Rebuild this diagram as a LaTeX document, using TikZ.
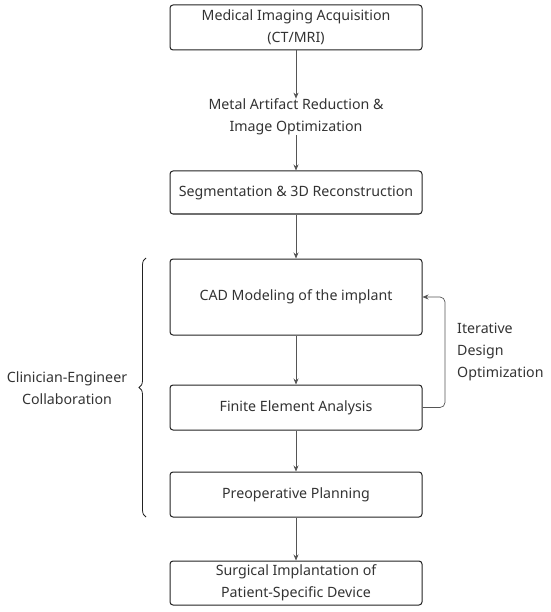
\documentclass[tikz,border=0pt]{standalone}
\usepackage{fontspec}
\setmainfont{Noto Sans}
\usetikzlibrary{arrows.meta,decorations.pathreplacing}
\definecolor{ink}{HTML}{222222}
\definecolor{txt}{HTML}{333333}
\definecolor{arr}{HTML}{555555}
\begin{document}
\begin{tikzpicture}[x=1pt,y=-1pt,
  box/.style={draw=ink,line width=1pt,rounded corners=3pt,minimum width=252pt,text=txt,font=\fontsize{14.2}{22}\selectfont,align=center,inner sep=0pt},
  lbl/.style={text=txt,font=\fontsize{14.2}{22}\selectfont,align=center,inner sep=0pt},
  conn/.style={draw=arr,line width=0.7pt,-{Stealth[length=6pt,width=5pt]}}]
\useasboundingbox (0,0) rectangle (550,612);
\node[box,minimum height=45pt] (acq) at (296,27.5) {Medical Imaging Acquisition\\(CT/MRI)};
\node[lbl] (mar) at (296,117) {Metal Artifact Reduction \&\\Image Optimization};
\node[box,minimum height=43pt] (seg) at (296,192.5) {Segmentation \& 3D Reconstruction};
\node[box,minimum height=76pt] (cad) at (296,297) {CAD Modeling of the implant};
\node[box,minimum height=45pt] (fea) at (296,407.5) {Finite Element Analysis};
\node[box,minimum height=45pt] (pre) at (296,494.5) {Preoperative Planning};
\node[box,minimum height=44pt] (sur) at (296,583) {Surgical Implantation of\\Patient-Specific Device};
\node[lbl,align=left,anchor=west] (ido) at (457,351.5) {Iterative\\Design\\Optimization};
\node[lbl] (cec) at (67,388) {Clinician-Engineer\\Collaboration};
\coordinate (bb) at (146,517);
\coordinate (bt) at (146,258);
\draw[conn] (acq.south) -- (mar.north);
\draw[conn] (mar.south) -- (seg.north);
\draw[conn] (seg.south) -- (cad.north);
\draw[conn] (cad.south) -- (fea.north);
\draw[conn] (fea.south) -- (pre.north);
\draw[conn] (pre.south) -- (sur.north);
\draw[conn,rounded corners=5pt] (fea.east) -- (445,407.5) -- (445,297) -- (cad.east);
\draw[ink,line width=0.8pt,decorate,decoration={brace,amplitude=7pt}] (bb) -- (bt);
\end{tikzpicture}
\end{document}
